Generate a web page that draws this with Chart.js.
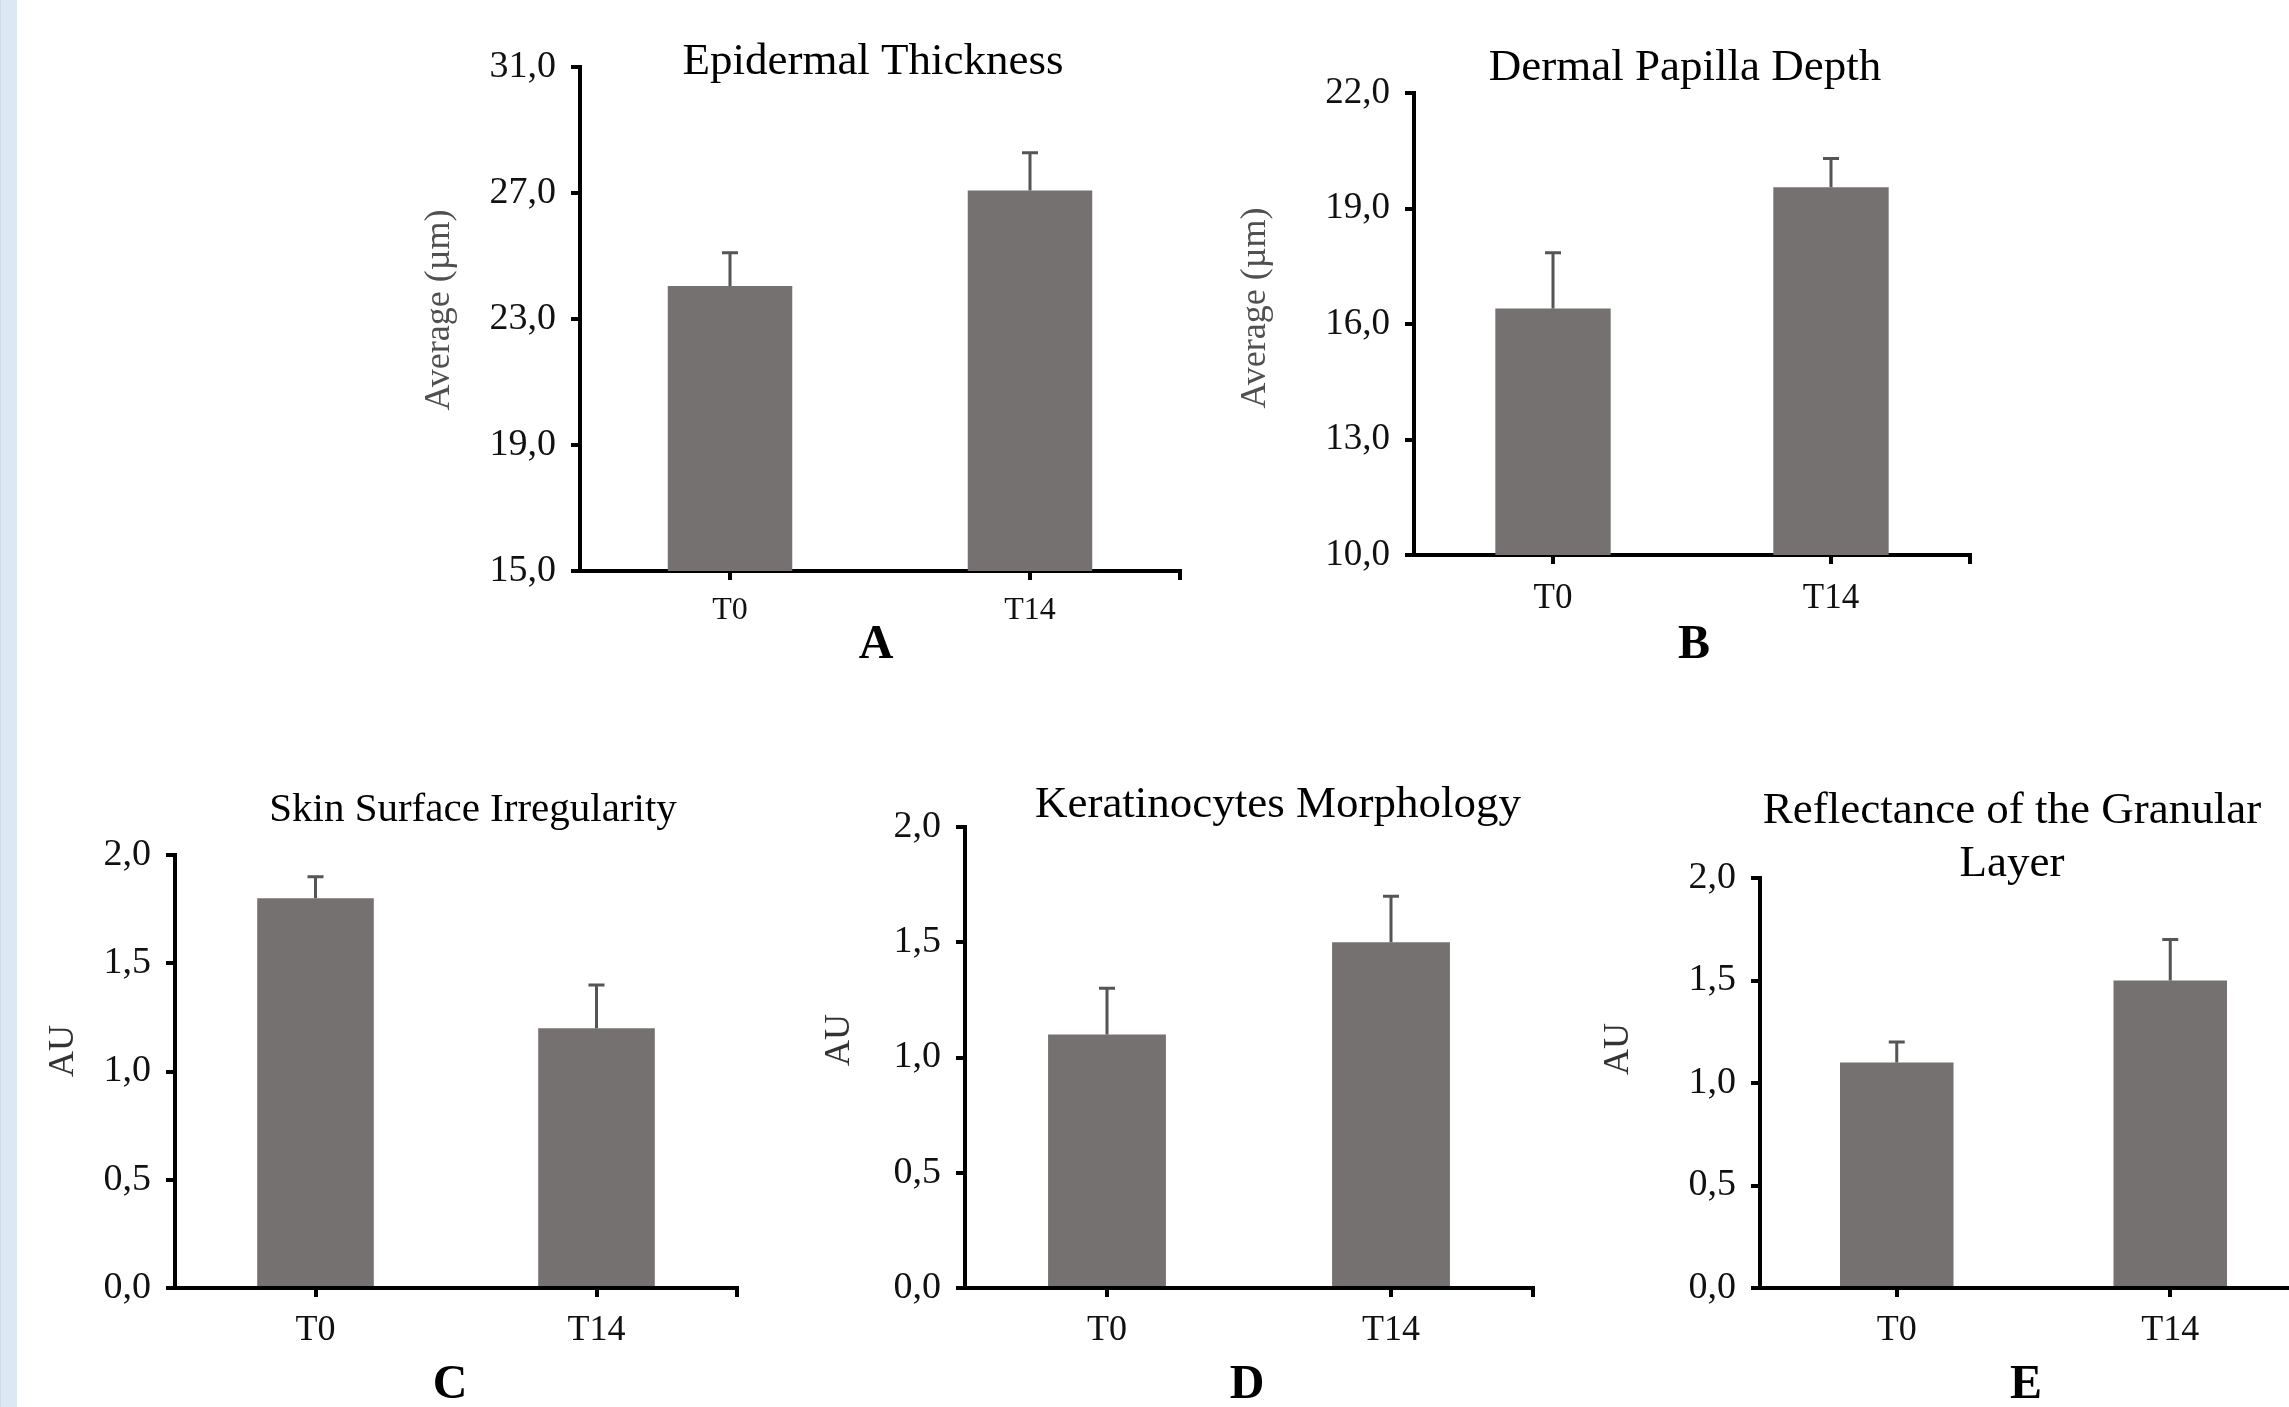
<!DOCTYPE html>
<html lang="en">
<head>
    <meta charset="UTF-8">
    <title>Skin parameters at T0 and T14</title>
    <script src="https://cdn.jsdelivr.net/npm/chart.js@4.4.0/dist/chart.umd.min.js"></script>
    <style>
        body { margin: 0; background: #fff; width: 2289px; height: 1407px; overflow: hidden; position: relative; }
        .edge { position: absolute; left: 0; top: 0; width: 17px; height: 100%; background: #dde8f5; border-left: 1px solid #cfdcec; box-sizing: border-box; }
        canvas { position: absolute; left: 0; top: 0; }
    </style>
</head>
<body>
    <div class="edge"></div>
    <canvas id="chartA" width="2340" height="1407"></canvas>
    <canvas id="chartB" width="2340" height="1407"></canvas>
    <canvas id="chartC" width="2340" height="1407"></canvas>
    <canvas id="chartD" width="2340" height="1407"></canvas>
    <canvas id="chartE" width="2340" height="1407"></canvas>

    <script>
        // values (mean and upper error)
        const categories = ['T0', 'T14'];

        const epidermalThickness = [24.05, 27.08];
        const epidermalThicknessSd = [1.05, 1.2];
        const papillaDepth = [16.4, 19.55];
        const papillaDepthSd = [1.45, 0.75];
        const surfaceIrregularity = [1.8, 1.2];
        const surfaceIrregularitySd = [0.1, 0.2];
        const keratinocytesMorphology = [1.1, 1.5];
        const keratinocytesMorphologySd = [0.2, 0.2];
        const granularReflectance = [1.1, 1.5];
        const granularReflectanceSd = [0.1, 0.2];

        const ticksThickness = [15, 19, 23, 27, 31];
        const ticksDepth = [10, 13, 16, 19, 22];
        const ticksAU = [0, 0.5, 1, 1.5, 2];

        const SERIF = '"Liberation Serif", "Times New Roman", serif';
        Chart.defaults.font.family = SERIF;

        const PAGE_W = 2340, PAGE_H = 1407;
        const Y_W = 150, X_H = 60;

        const panels = [
            { canvas: 'chartA', letter: 'A', title: ['Epidermal Thickness'], yTitle: 'Average (µm)',
              values: epidermalThickness, errors: epidermalThicknessSd, ticks: ticksThickness,
              plot: { left: 580, top: 67, right: 1180, bottom: 571 },
              titleAt: [873, 74], titleSize: 45, yTitleAt: [440, 310], yTitleSize: 36, yTitleColor: '#505050',
              letterAt: [876, 658], yTickSize: 38, xTickSize: 32, xPad: 11 },
            { canvas: 'chartB', letter: 'B', title: ['Dermal Papilla Depth'], yTitle: 'Average (µm)',
              values: papillaDepth, errors: papillaDepthSd, ticks: ticksDepth,
              plot: { left: 1414, top: 93, right: 1970, bottom: 555 },
              titleAt: [1685, 80], titleSize: 45, yTitleAt: [1256, 308], yTitleSize: 36, yTitleColor: '#505050',
              letterAt: [1694, 658], yTickSize: 37, xTickSize: 35, xPad: 14 },
            { canvas: 'chartC', letter: 'C', title: ['Skin Surface Irregularity'], yTitle: 'AU',
              values: surfaceIrregularity, errors: surfaceIrregularitySd, ticks: ticksAU,
              plot: { left: 175, top: 855, right: 737, bottom: 1288 },
              titleAt: [473, 821], titleSize: 41, yTitleAt: [64, 1051], yTitleSize: 36, yTitleColor: '#333',
              letterAt: [450, 1398], yTickSize: 38, xTickSize: 36, xPad: 12 },
            { canvas: 'chartD', letter: 'D', title: ['Keratinocytes Morphology'], yTitle: 'AU',
              values: keratinocytesMorphology, errors: keratinocytesMorphologySd, ticks: ticksAU,
              plot: { left: 965, top: 827, right: 1533, bottom: 1288 },
              titleAt: [1278, 817], titleSize: 45, yTitleAt: [840, 1040], yTitleSize: 36, yTitleColor: '#333',
              letterAt: [1247, 1398], yTickSize: 38, xTickSize: 36, xPad: 12 },
            { canvas: 'chartE', letter: 'E', title: ['Reflectance of the Granular', 'Layer'], yTitle: 'AU',
              values: granularReflectance, errors: granularReflectanceSd, ticks: ticksAU,
              plot: { left: 1760, top: 878, right: 2307, bottom: 1288 },
              titleAt: [2012, 823], titleSize: 45, yTitleAt: [1619, 1049], yTitleSize: 36, yTitleColor: '#333',
              letterAt: [2026, 1398], yTickSize: 38, xTickSize: 36, xPad: 12 }
        ];

        // one-sided (upper) error bars + the closing tick at the end of the x axis
        const errorBars = {
            id: 'errorBars',
            afterDatasetsDraw(chart) {
                const { ctx, chartArea, scales: { y } } = chart;
                const ds = chart.data.datasets[0];
                ctx.save();
                ctx.strokeStyle = '#555';
                ctx.lineWidth = 3;
                chart.getDatasetMeta(0).data.forEach((bar, i) => {
                    const top = y.getPixelForValue(ds.data[i] + ds.errors[i]);
                    ctx.beginPath();
                    ctx.moveTo(bar.x, bar.y);
                    ctx.lineTo(bar.x, top);
                    ctx.moveTo(bar.x - 8, top);
                    ctx.lineTo(bar.x + 8, top);
                    ctx.stroke();
                });
                ctx.strokeStyle = '#000';
                ctx.lineWidth = 4;
                ctx.beginPath();
                ctx.moveTo(chartArea.right, chartArea.bottom);
                ctx.lineTo(chartArea.right, chartArea.bottom + 9);
                ctx.stroke();
                ctx.restore();
            }
        };

        // panel title, rotated y label and the panel letter
        const panelText = {
            id: 'panelText',
            afterDraw(chart, args, o) {
                const ctx = chart.ctx;
                ctx.save();
                ctx.textAlign = 'center';
                ctx.textBaseline = 'alphabetic';
                ctx.fillStyle = '#000';
                ctx.font = o.titleSize + 'px ' + SERIF;
                o.title.forEach((line, i) => ctx.fillText(line, o.titleAt[0], o.titleAt[1] + i * 53));
                ctx.font = 'bold 48px ' + SERIF;
                ctx.fillText(o.letter, o.letterAt[0], o.letterAt[1]);
                ctx.translate(o.yTitleAt[0], o.yTitleAt[1]);
                ctx.rotate(-Math.PI / 2);
                ctx.textBaseline = 'middle';
                ctx.fillStyle = o.yTitleColor;
                ctx.font = o.yTitleSize + 'px ' + SERIF;
                ctx.fillText(o.yTitle, 0, 0);
                ctx.restore();
            }
        };

        panels.forEach(p => {
            new Chart(document.getElementById(p.canvas), {
                type: 'bar',
                data: {
                    labels: categories,
                    datasets: [{
                        data: p.values,
                        errors: p.errors,
                        backgroundColor: '#767171',
                        borderWidth: 0,
                        barPercentage: 0.415,
                        categoryPercentage: 1
                    }]
                },
                options: {
                    responsive: false,
                    animation: false,
                    layout: {
                        padding: {
                            left: p.plot.left - Y_W,
                            top: p.plot.top,
                            right: PAGE_W - p.plot.right,
                            bottom: PAGE_H - p.plot.bottom - X_H
                        }
                    },
                    plugins: {
                        legend: { display: false },
                        tooltip: { enabled: false },
                        panelText: {
                            title: p.title, titleAt: p.titleAt, titleSize: p.titleSize,
                            letter: p.letter, letterAt: p.letterAt,
                            yTitle: p.yTitle, yTitleAt: p.yTitleAt, yTitleSize: p.yTitleSize, yTitleColor: p.yTitleColor
                        }
                    },
                    scales: {
                        x: {
                            afterFit: s => { s.height = X_H; },
                            grid: { offset: false, drawOnChartArea: false, tickLength: 9, color: '#000', lineWidth: 4 },
                            border: { color: '#000', width: 4 },
                            ticks: { color: '#111', padding: p.xPad, font: { size: p.xTickSize } }
                        },
                        y: {
                            min: p.ticks[0],
                            max: p.ticks[p.ticks.length - 1],
                            afterFit: s => { s.width = Y_W; },
                            afterBuildTicks: s => { s.ticks = p.ticks.map(v => ({ value: v })); },
                            grid: { drawOnChartArea: false, tickLength: 9, color: '#000', lineWidth: 4 },
                            border: { color: '#000', width: 4 },
                            ticks: {
                                color: '#111',
                                padding: 15,
                                font: { size: p.yTickSize },
                                callback: v => v.toFixed(1).replace('.', ',')
                            }
                        }
                    }
                },
                plugins: [errorBars, panelText]
            });
        });
    </script>
</body>
</html>
